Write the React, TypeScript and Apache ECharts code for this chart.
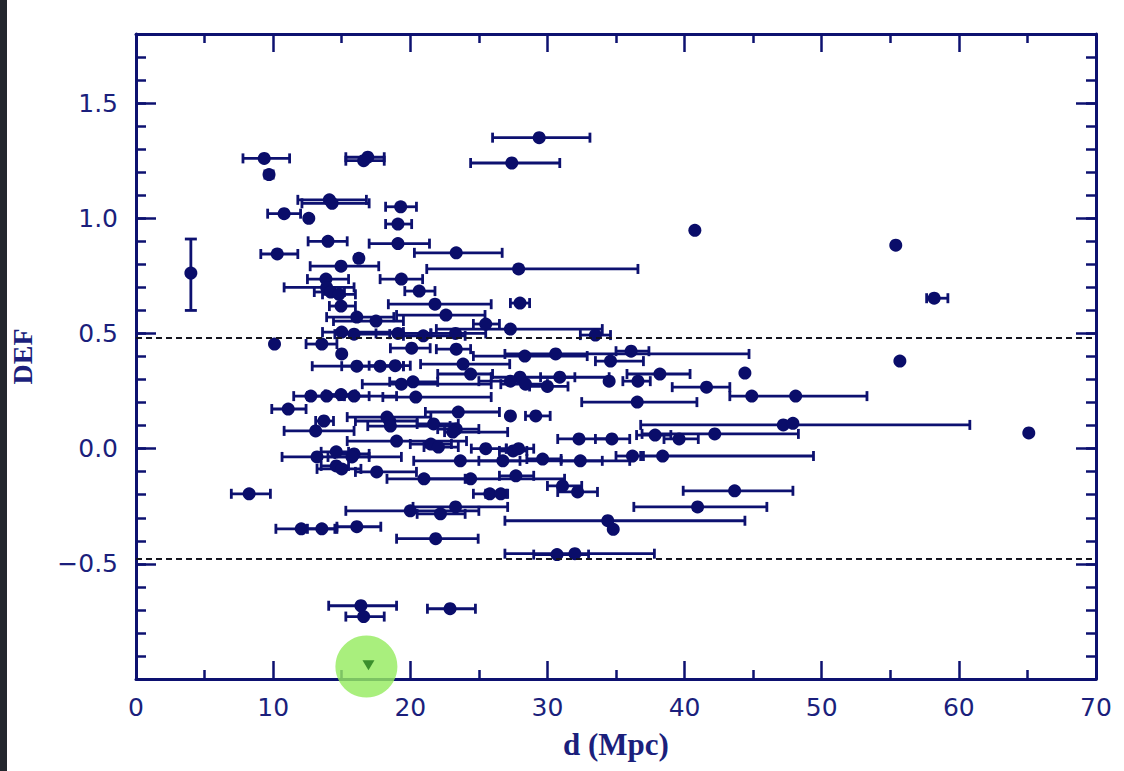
import { useEffect, useRef } from "react";
import * as echarts from "echarts";

// [d (Mpc), DEF, d low, d high]  (null = no horizontal error bar)
const galaxies: [number, number, number | null, number | null][] = [
  [29.4, 1.35, 26.0, 33.1],
  [9.35, 1.26, 7.8, 11.2],
  [16.9, 1.265, 15.3, 18.1],
  [16.6, 1.25, 15.3, 18.1],
  [27.4, 1.24, 24.4, 30.9],
  [9.7, 1.19, 9.4, 10.0],
  [14.1, 1.08, 11.8, 16.8],
  [14.3, 1.065, 12.1, 17.0],
  [19.3, 1.05, 18.2, 20.45],
  [10.8, 1.02, 9.6, 12.0],
  [12.6, 1.0, 12.4, 12.8],
  [19.1, 0.975, 18.2, 20.1],
  [40.75, 0.948, null, null],
  [14.0, 0.9, 12.55, 15.4],
  [19.1, 0.89, 17.0, 21.4],
  [55.4, 0.883, null, null],
  [23.35, 0.85, 20.3, 26.7],
  [10.3, 0.845, 9.1, 11.8],
  [16.25, 0.826, 16.0, 16.5],
  [14.95, 0.792, 12.7, 17.7],
  [27.9, 0.78, 21.2, 36.6],
  [13.85, 0.736, 12.5, 15.5],
  [19.35, 0.736, 17.8, 20.9],
  [13.9, 0.7, 10.8, 15.9],
  [20.65, 0.684, 19.6, 21.8],
  [14.2, 0.68, 13.0, 15.2],
  [14.8, 0.67, 13.6, 16.0],
  [58.2, 0.653, 57.65, 59.2],
  [28.0, 0.632, 27.3, 28.7],
  [14.95, 0.619, 14.1, 16.0],
  [21.8, 0.627, 18.4, 25.9],
  [22.6, 0.58, 19.0, 25.45],
  [16.1, 0.571, 13.9, 18.8],
  [17.5, 0.554, 14.4, 19.5],
  [25.5, 0.541, 24.6, 26.5],
  [27.3, 0.519, 21.9, 34.0],
  [33.5, 0.493, 32.4, 34.6],
  [15.0, 0.506, 13.6, 19.5],
  [15.9, 0.497, 14.5, 18.5],
  [19.1, 0.5, 17.5, 21.5],
  [20.95, 0.49, 19.5, 24.0],
  [23.3, 0.5, 21.5, 25.5],
  [10.1, 0.454, null, null],
  [13.55, 0.454, 12.4, 14.65],
  [15.0, 0.411, null, null],
  [20.1, 0.436, 18.55, 21.45],
  [23.35, 0.432, 21.9, 24.4],
  [28.35, 0.402, 24.6, 32.9],
  [30.6, 0.411, 26.9, 44.7],
  [34.6, 0.38, 33.5, 37.0],
  [36.1, 0.423, 35.0, 37.4],
  [16.1, 0.358, 12.85, 19.5],
  [17.8, 0.358, 15.0, 19.5],
  [18.9, 0.36, 17.0, 20.0],
  [23.85, 0.367, 20.75, 27.25],
  [24.4, 0.324, 22.0, 26.0],
  [19.35, 0.28, 16.5, 25.9],
  [20.2, 0.29, 18.5, 22.0],
  [28.0, 0.31, 25.9, 34.5],
  [30.9, 0.31, 29.5, 32.0],
  [27.3, 0.293, 25.0, 28.5],
  [28.4, 0.28, 26.6, 30.0],
  [30.0, 0.27, 28.7, 31.5],
  [38.2, 0.324, 35.8, 40.4],
  [44.4, 0.328, null, null],
  [34.5, 0.293, null, null],
  [36.6, 0.293, 35.5, 37.5],
  [41.6, 0.267, 39.1, 43.3],
  [44.9, 0.228, 43.3, 53.3],
  [48.1, 0.228, null, null],
  [12.75, 0.228, 11.5, 19.0],
  [13.9, 0.228, 12.5, 15.2],
  [14.95, 0.235, 13.8, 16.0],
  [15.9, 0.228, 14.8, 17.0],
  [20.4, 0.224, 18.0, 25.9],
  [36.55, 0.202, 32.5, 40.9],
  [11.1, 0.172, 9.9, 12.4],
  [23.5, 0.159, 21.1, 26.5],
  [27.3, 0.142, null, null],
  [29.15, 0.142, 28.4, 30.2],
  [18.3, 0.137, 15.4, 21.5],
  [13.7, 0.12, 13.1, 14.4],
  [18.5, 0.12, 16.0, 20.5],
  [18.55, 0.098, 16.9, 22.9],
  [21.7, 0.107, 20.5, 23.5],
  [23.35, 0.085, 22.0, 25.0],
  [13.1, 0.077, 10.8, 15.9],
  [23.1, 0.072, 22.5, 27.1],
  [32.3, 0.042, 30.75, 34.6],
  [34.7, 0.042, 33.5, 36.0],
  [19.0, 0.033, 15.4, 24.1],
  [21.5, 0.02, 20.0, 23.0],
  [22.05, 0.007, 21.0, 23.5],
  [25.5, 0.0, 24.45, 27.0],
  [27.5, -0.01, 26.5, 28.5],
  [27.9, 0.0, 27.0, 29.0],
  [14.6, -0.014, 13.5, 15.5],
  [15.9, -0.023, 14.5, 17.0],
  [13.2, -0.036, 10.65, 19.35],
  [15.75, -0.036, 14.0, 17.0],
  [23.65, -0.053, 20.25, 36.0],
  [26.75, -0.053, 25.0, 28.0],
  [29.65, -0.045, 28.5, 31.0],
  [32.4, -0.053, 31.0, 34.0],
  [14.6, -0.075, 13.5, 15.5],
  [15.0, -0.088, 13.2, 16.4],
  [17.55, -0.101, 16.0, 20.45],
  [21.0, -0.131, 18.3, 24.0],
  [24.4, -0.131, 21.0, 31.25],
  [27.7, -0.118, 26.5, 29.0],
  [31.1, -0.162, 30.0, 32.5],
  [32.2, -0.188, 30.75, 33.65],
  [25.8, -0.196, 24.6, 27.0],
  [26.6, -0.196, 25.5, 27.1],
  [43.65, -0.183, 39.9, 47.9],
  [40.95, -0.253, 36.3, 46.0],
  [23.3, -0.253, 20.2, 27.1],
  [20.0, -0.27, 15.3, 25.0],
  [22.2, -0.283, 20.5, 24.0],
  [34.4, -0.313, 26.9, 44.4],
  [34.8, -0.35, null, null],
  [12.05, -0.348, 10.2, 14.65],
  [13.55, -0.348, 12.5, 14.5],
  [16.1, -0.339, 14.65, 17.85],
  [21.85, -0.391, 19.0, 24.95],
  [32.0, -0.456, 26.9, 37.8],
  [30.7, -0.46, 29.0, 33.0],
  [8.25, -0.196, 6.95, 9.8],
  [16.4, -0.682, 14.05, 19.0],
  [16.6, -0.729, 15.3, 18.1],
  [22.9, -0.695, 21.25, 24.75],
  [55.7, 0.38, null, null],
  [65.1, 0.068, null, null],
  [47.2, 0.103, 36.8, 60.8],
  [47.9, 0.11, null, null],
  [42.2, 0.064, 36.9, 48.3],
  [37.85, 0.059, 36.5, 39.0],
  [39.6, 0.042, 38.5, 41.0],
  [36.2, -0.032, 35.0, 37.0],
  [38.4, -0.032, 36.8, 49.4],
];

// galaxy with a vertical (DEF) error bar: [d, DEF, DEF low, DEF high]
const verticalErrorPoint: [number, number, number, number][] = [[4.0, 0.762, 0.6, 0.91]];
// upper limit (highlighted)
const upperLimit: [number, number][] = [[16.95, -0.94]];
const highlight: [number, number][] = [[16.8, -0.946]];
// DEF thresholds
const thresholds = [0.48, -0.48];

const xRange = [0, 70];
const yRange = [-1.0, 1.8];
const yLabels = [-0.5, 0.0, 0.5, 1.0, 1.5];

const NAVY = "#0d1170";
const DOT = "#0a0d6a";
const LABEL = "#1b1f7c";

export default function App() {
  const ref = useRef<HTMLDivElement>(null);
  useEffect(() => {
    if (!ref.current) return;
    const chart = echarts.init(ref.current, undefined, { renderer: "svg" });

    const barData = galaxies.filter((g) => g[2] !== null).map((g) => [g[0], g[1], g[2], g[3]]);
    const dotData = galaxies.map((g) => [g[0], g[1]]);

    const labelFmt = (v: number) => {
      const r = Math.round(v * 10) / 10;
      if (!yLabels.some((l) => Math.abs(l - r) < 1e-6)) return "";
      return (r < 0 ? "\u2212" : "") + Math.abs(r).toFixed(1);
    };

    const xCommon = {
      type: "value",
      min: xRange[0],
      max: xRange[1],
      interval: 10,
      axisLine: { show: true, onZero: false, lineStyle: { color: NAVY, width: 3 } },
      axisTick: { show: true, inside: true, length: 18, lineStyle: { color: NAVY, width: 2.5 } },
      minorTick: { show: true, splitNumber: 2, length: 9, lineStyle: { color: NAVY, width: 2.5 } },
      splitLine: { show: false },
      minorSplitLine: { show: false },
    };
    const yMinor = {
      type: "value",
      min: yRange[0],
      max: yRange[1],
      interval: 0.1,
      axisLine: { show: true, onZero: false, lineStyle: { color: NAVY, width: 3 } },
      axisTick: { show: true, inside: true, length: 10, lineStyle: { color: NAVY, width: 2.5 } },
      axisLabel: { show: false },
      splitLine: { show: false },
    };
    const yMajor = {
      type: "value",
      min: yRange[0],
      max: yRange[1],
      interval: 0.5,
      axisLine: { show: false, onZero: false },
      axisTick: { show: true, inside: true, length: 20, lineStyle: { color: NAVY, width: 2.5 } },
      splitLine: { show: false },
    };

    const option: any = {
      animation: false,
      backgroundColor: "#ffffff",
      grid: { left: 131, right: 28, top: 34, bottom: 92, containLabel: false },
      graphic: [
        { type: "rect", left: 0, top: 0, shape: { width: 7, height: 771 }, style: { fill: "#23272d" } },
      ],
      xAxis: [
        {
          ...xCommon,
          position: "bottom",
          axisLabel: {
            show: true,
            margin: 16,
            fontFamily: "DejaVu Sans",
            fontSize: 25,
            color: LABEL,
          },
          name: "d (Mpc)",
          nameLocation: "middle",
          nameGap: 50,
          nameTextStyle: {
            fontFamily: "Liberation Serif",
            fontWeight: "bold",
            fontSize: 31,
            color: LABEL,
          },
        },
        { ...xCommon, position: "top", axisLabel: { show: false } },
      ],
      yAxis: [
        { ...yMinor, position: "left" },
        {
          ...yMajor,
          position: "left",
          axisLabel: {
            show: true,
            margin: 18,
            fontFamily: "DejaVu Sans",
            fontSize: 25,
            color: LABEL,
            formatter: labelFmt,
          },
          name: "DEF",
          nameLocation: "middle",
          nameGap: 100,
          nameTextStyle: {
            fontFamily: "Liberation Serif",
            fontWeight: "bold",
            fontSize: 28,
            color: LABEL,
          },
        },
        { ...yMinor, position: "right", axisLabel: { show: false } },
        { ...yMajor, position: "right", axisLabel: { show: false } },
      ],
      series: [
        {
          type: "custom",
          name: "d error",
          xAxisIndex: 0,
          yAxisIndex: 0,
          data: barData,
          encode: { x: 0, y: 1 },
          z: 3,
          renderItem: (_p: any, api: any) => {
            const y = api.value(1);
            const a = api.coord([api.value(2), y]);
            const b = api.coord([api.value(3), y]);
            const cap = 5;
            const style = { stroke: NAVY, lineWidth: 2.8 };
            return {
              type: "group",
              children: [
                { type: "line", shape: { x1: a[0], y1: a[1], x2: b[0], y2: b[1] }, style },
                { type: "line", shape: { x1: a[0], y1: a[1] - cap, x2: a[0], y2: a[1] + cap }, style },
                { type: "line", shape: { x1: b[0], y1: b[1] - cap, x2: b[0], y2: b[1] + cap }, style },
              ],
            };
          },
        },
        {
          type: "custom",
          name: "DEF error",
          xAxisIndex: 0,
          yAxisIndex: 0,
          data: verticalErrorPoint,
          encode: { x: 0, y: 1 },
          z: 3,
          renderItem: (_p: any, api: any) => {
            const x = api.value(0);
            const a = api.coord([x, api.value(2)]);
            const b = api.coord([x, api.value(3)]);
            const cap = 6;
            const style = { stroke: NAVY, lineWidth: 2.8 };
            return {
              type: "group",
              children: [
                { type: "line", shape: { x1: a[0], y1: a[1], x2: b[0], y2: b[1] }, style },
                { type: "line", shape: { x1: a[0] - cap, y1: a[1], x2: a[0] + cap, y2: a[1] }, style },
                { type: "line", shape: { x1: b[0] - cap, y1: b[1], x2: b[0] + cap, y2: b[1] }, style },
              ],
            };
          },
        },
        {
          type: "scatter",
          name: "galaxies",
          xAxisIndex: 0,
          yAxisIndex: 0,
          data: [...dotData, ...verticalErrorPoint.map((v) => [v[0], v[1]])],
          symbol: "circle",
          symbolSize: 13,
          itemStyle: { color: DOT, opacity: 1 },
          z: 4,
          markLine: {
            silent: true,
            symbol: "none",
            label: { show: false },
            lineStyle: { color: "#15151f", width: 2, type: [6, 4], opacity: 1 },
            data: thresholds.map((t) => ({ yAxis: t })),
          },
        },
        {
          type: "scatter",
          name: "highlight",
          xAxisIndex: 0,
          yAxisIndex: 0,
          data: highlight,
          symbol: "circle",
          symbolSize: 62,
          clip: false,
          itemStyle: { color: "rgb(150, 236, 96)", opacity: 0.82 },
          z: 5,
        },
        {
          type: "scatter",
          name: "upper limit",
          xAxisIndex: 0,
          yAxisIndex: 0,
          data: upperLimit,
          symbol: "triangle",
          symbolRotate: 180,
          symbolSize: [12, 10],
          clip: false,
          itemStyle: { color: "#3b8f2c", opacity: 1 },
          z: 6,
        },
      ],
    };
    chart.setOption(option);
    return () => chart.dispose();
  }, []);

  return (
    <div
      ref={ref}
      style={{ position: "absolute", left: 0, top: 0, width: 1124, height: 771, background: "#fff" }}
    />
  );
}
